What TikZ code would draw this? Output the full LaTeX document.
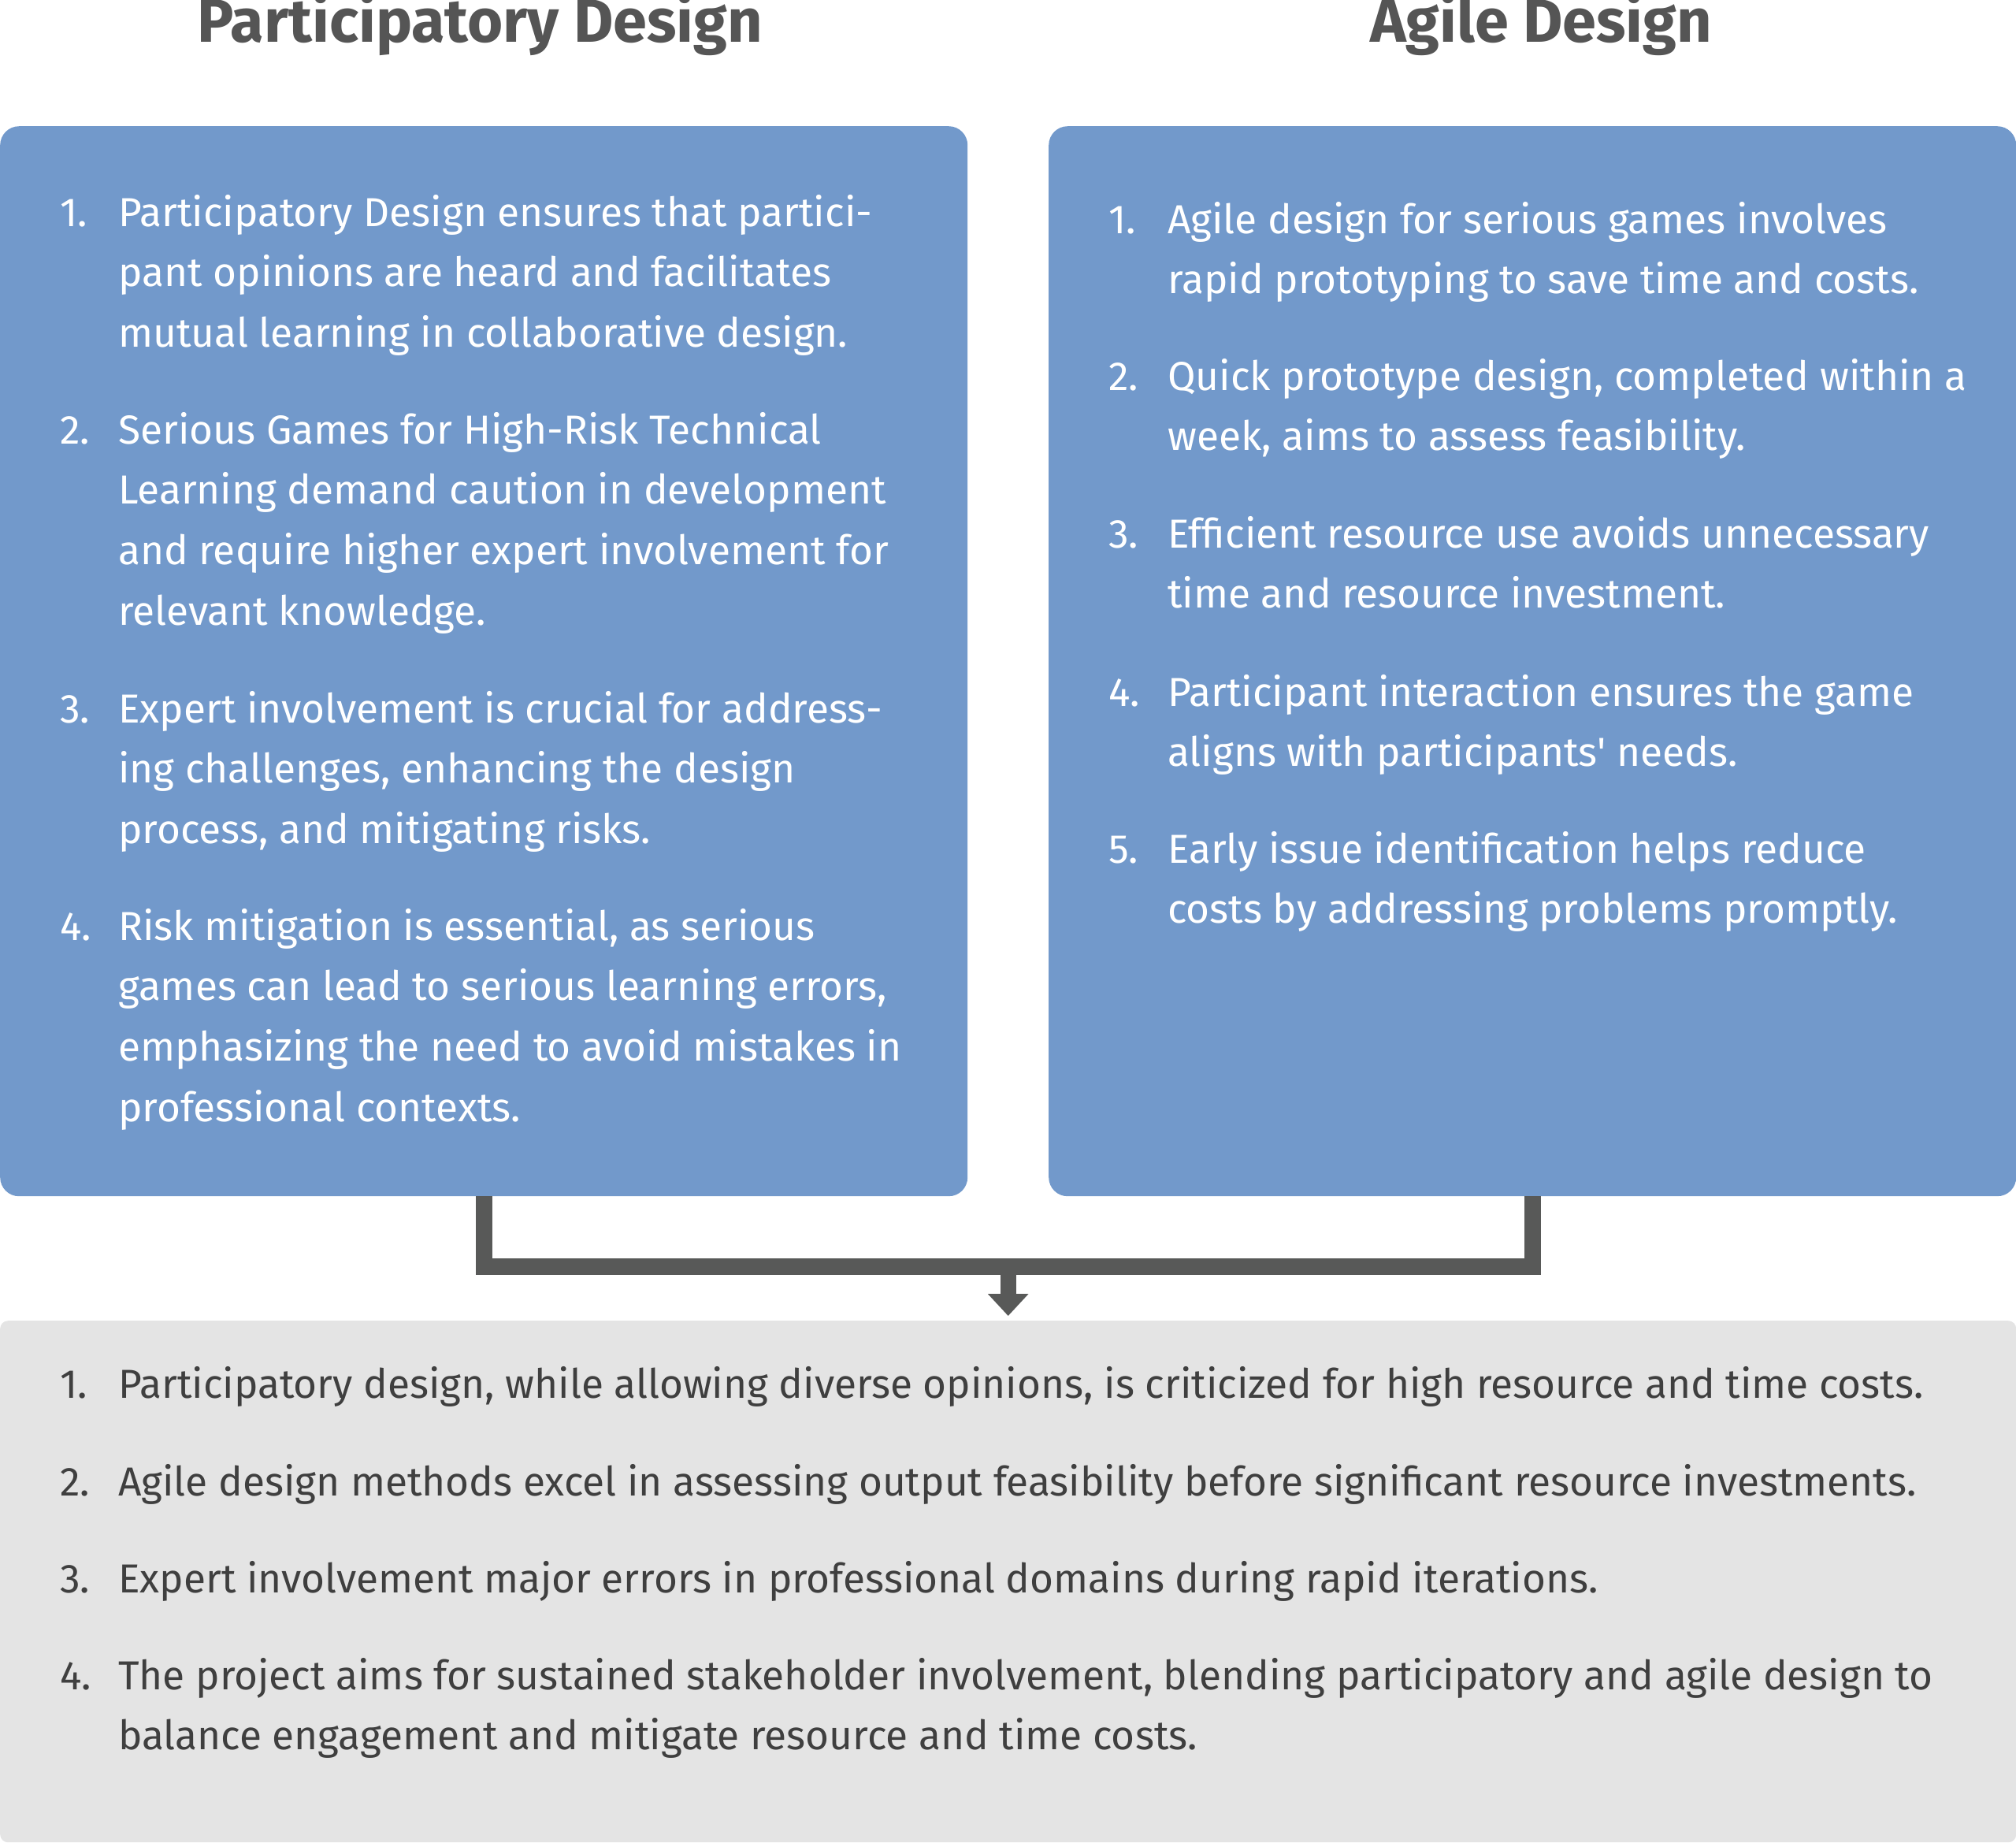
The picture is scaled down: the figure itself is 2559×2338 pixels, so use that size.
\documentclass[tikz,border=0pt]{standalone}
\usepackage{fontspec}
\setmainfont{Fira Sans}
\usetikzlibrary{arrows.meta}
\definecolor{boxblue}{HTML}{7299CB}
\definecolor{boxgray}{HTML}{E4E4E4}
\definecolor{conncol}{HTML}{585958}
\definecolor{titlegray}{HTML}{555555}
\definecolor{textdark}{HTML}{3F3F3F}
\newcommand\itemlines[1]{\begin{tabular}[t]{@{}l@{}}#1\end{tabular}}
\newcommand\straightquote{{\addfontfeatures{Ligatures=TeXOff}'}}
\begin{document}
\begin{tikzpicture}[x=1pt,y=-1pt,
  bluebox/.style={fill=boxblue, rounded corners=24pt, inner sep=0pt, anchor=north west},
  graybox/.style={fill=boxgray, rounded corners=10pt, inner sep=0pt, anchor=north west},
  titletext/.style={text=titlegray, font=\fontsize{77.5}{85}\selectfont\bfseries, anchor=base, inner sep=0pt},
  numtext/.style={anchor=base west, inner sep=0pt, font=\fontsize{51.4}{76.7}\selectfont},
  itemtext/.style={anchor=base west, inner sep=0pt, font=\fontsize{51.4}{76.7}\selectfont},
  wht/.style={text=white},
  drk/.style={text=textdark},
  conn/.style={draw=conncol, line width=21pt},
  arr/.style={draw=conncol, line width=20pt, -{Triangle[width=50pt,length=28pt]}, shorten >=6pt}
]
\useasboundingbox (0,0) rectangle (2559,2338);
\node[bluebox, minimum width=1228pt, minimum height=1358pt] (pd) at (0,160) {};
\node[bluebox, minimum width=1228pt, minimum height=1358pt] (ad) at (1331,160) {};
\node[graybox, minimum width=2559pt, minimum height=662pt] (sum) at (0,1676) {};
\coordinate (tb) at (0,53);
\node[titletext, xshift=-5pt] (t1) at (pd.north |- tb) {Participatory Design};
\node[titletext, xshift=11pt] (t2) at (ad.north |- tb) {Agile Design};
% left items
\node[numtext,wht] (l1n) at (76,287) {1.};
\node[itemtext,wht] (l1) at (150,287) {\itemlines{Participatory Design ensures that partici-\\pant opinions are heard and facilitates\\mutual learning in collaborative design.}};
\node[numtext,wht] (l2n) at (76,563) {2.};
\node[itemtext,wht] (l2) at (150,563) {\itemlines{Serious Games for High-Risk Technical\\Learning demand caution in development\\and require higher expert involvement for\\relevant knowledge.}};
\node[numtext,wht] (l3n) at (76,917) {3.};
\node[itemtext,wht] (l3) at (150,917) {\itemlines{Expert involvement is crucial for address-\\ing challenges, enhancing the design\\process, and mitigating risks.}};
\node[numtext,wht] (l4n) at (76,1193) {4.};
\node[itemtext,wht] (l4) at (150,1193) {\itemlines{Risk mitigation is essential, as serious\\games can lead to serious learning errors,\\emphasizing the need to avoid mistakes in\\professional contexts.}};
% right items
\node[numtext,wht] (r1n) at (1407,296) {1.};
\node[itemtext,wht] (r1) at (1482,296) {\itemlines{Agile design for serious games involves\\rapid prototyping to save time and costs.}};
\node[numtext,wht] (r2n) at (1407,495) {2.};
\node[itemtext,wht] (r2) at (1482,495) {\itemlines{Quick prototype design, completed within a\\week, aims to assess feasibility.}};
\node[numtext,wht] (r3n) at (1407,695) {3.};
\node[itemtext,wht] (r3) at (1482,695) {\itemlines{Efficient resource use avoids unnecessary\\time and resource investment.}};
\node[numtext,wht] (r4n) at (1407,896) {4.};
\node[itemtext,wht] (r4) at (1482,896) {\itemlines{Participant interaction ensures the game\\aligns with participants\straightquote{} needs.}};
\node[numtext,wht] (r5n) at (1407,1095) {5.};
\node[itemtext,wht] (r5) at (1482,1095) {\itemlines{Early issue identification helps reduce\\costs by addressing problems promptly.}};
% bottom items
\node[numtext,drk] (b1n) at (76,1774) {1.};
\node[itemtext,drk] (b1) at (150,1774) {Participatory design, while allowing diverse opinions, is criticized for high resource and time costs.};
\node[numtext,drk] (b2n) at (76,1898) {2.};
\node[itemtext,drk] (b2) at (150,1898) {Agile design methods excel in assessing output feasibility before significant resource investments.};
\node[numtext,drk] (b3n) at (76,2021) {3.};
\node[itemtext,drk] (b3) at (150,2021) {Expert involvement major errors in professional domains during rapid iterations.};
\node[numtext,drk] (b4n) at (76,2144) {4.};
\node[itemtext,drk] (b4) at (150,2144) {\itemlines{The project aims for sustained stakeholder involvement, blending participatory and agile design to\\balance engagement and mitigate resource and time costs.}};
% connectors
\coordinate (bar) at (0,1607);
\draw[conn] (pd.south) |- (bar -| sum.north) -| (ad.south);
\draw[arr] (bar -| sum.north) -- (sum.north);
\end{tikzpicture}
\end{document}
